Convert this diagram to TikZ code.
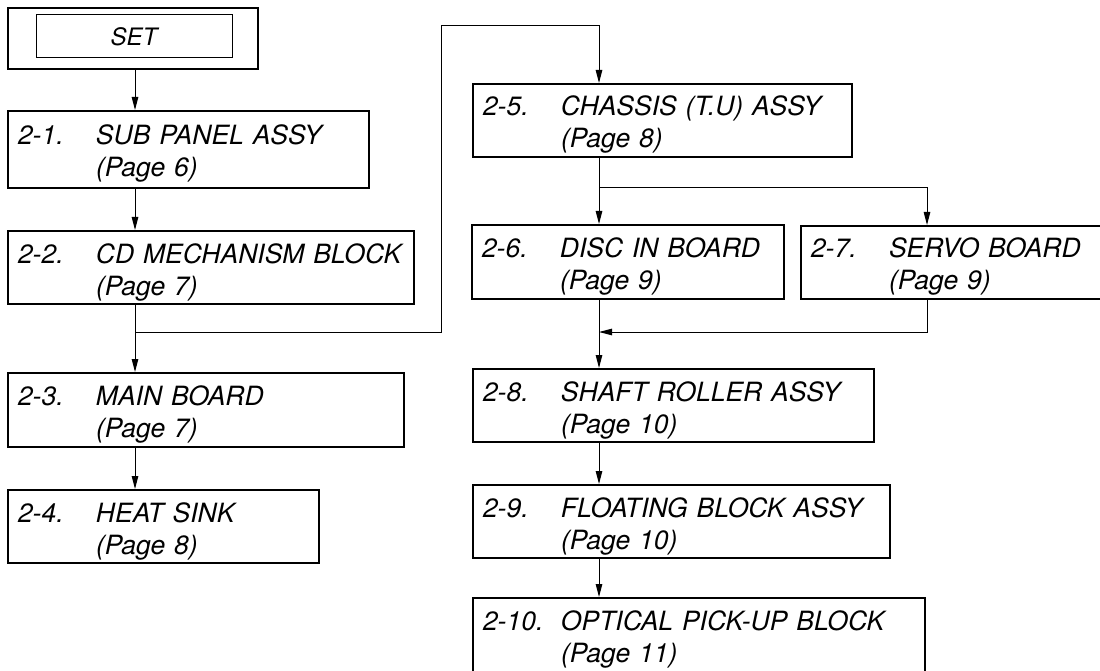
\documentclass[tikz,border=0pt]{standalone}
\usepackage{fontspec}
\setmainfont{TeX Gyre Heros}
\usetikzlibrary{arrows.meta}

\newcommand{\entry}[3]{\makebox[78pt][l]{#1}#2\rule{0pt}{32pt}\\\hspace*{78pt}#3\rule[-9pt]{0pt}{9pt}}

\begin{document}
\begin{tikzpicture}[x=1pt, y=-1pt,
  font=\fontsize{26.5}{32}\selectfont\itshape,
  part/.style={draw, line width=2pt, anchor=north west, inner xsep=10pt, inner ysep=0pt, align=left},
  link/.style={line width=1pt, -{Triangle[length=13pt, width=6.5pt]}}]
  \useasboundingbox (0,0) rectangle (1100,671);
  \clip (0,0) rectangle (1100,671);
  % start box
  \node[draw, line width=1pt, minimum width=196pt, minimum height=43pt,
        font=\fontsize{24}{28}\selectfont\itshape] (set) at (134,36.5) {SET};
  \node[draw, line width=2pt, minimum width=250pt, minimum height=61pt] (setframe) at (133,38.5) {};
  % disassembly steps
  \foreach \nm/\x/\y/\w/\h/\num/\txt/\pg in {
      sub/7/110/361/77/2-1./SUB PANEL ASSY/6,
      cdm/7/230/406/73/2-2./CD MECHANISM BLOCK/7,
      main/7/372/396/74/2-3./MAIN BOARD/7,
      heat/7/489/311/73/2-4./HEAT SINK/8,
      chassis/472/83/379/72/2-5./CHASSIS (T.U) ASSY/8,
      disc/471/224/312/74/2-6./DISC IN BOARD/9,
      servo/800/225/310/73/2-7./SERVO BOARD/9,
      shaft/472/368/401/73/2-8./SHAFT ROLLER ASSY/10,
      floating/472/484/417/73/2-9./FLOATING BLOCK ASSY/10,
      pickup/472/597/452/74/2-10./OPTICAL PICK-UP BLOCK/11} {
    \pgfmathsetmacro{\tw}{\w-20}
    \node[part, text width=\tw pt, minimum height=\h pt] (\nm) at (\x,\y) {\entry{\num}{\txt}{(Page \pg)}};
  }
  \coordinate (lx) at (135,0);
  \coordinate (rx) at (599,0);
  \coordinate (sx) at (927,0);
  \coordinate (bend) at (441,26);
  \coordinate (j1) at (135,332);
  \coordinate (j2) at (599,332);
  \coordinate (j3) at (599,188);
  % left column
  \draw[link] (setframe.south -| lx) -- (sub.north -| lx);
  \draw[link] (sub.south -| lx) -- (cdm.north -| lx);
  \draw[link] (cdm.south -| lx) -- (main.north -| lx);
  \draw[link] (main.south -| lx) -- (heat.north -| lx);
  \draw[link] (j1) -| (bend) -| (chassis.north -| rx);
  % right column
  \draw[link] (chassis.south -| rx) -- (disc.north -| rx);
  \draw[link] (j3) -| (servo.north -| sx);
  \draw[link] (disc.south -| rx) -- (shaft.north -| rx);
  \draw[link] (servo.south -| sx) |- (j2);
  \draw[link] (shaft.south -| rx) -- (floating.north -| rx);
  \draw[link] (floating.south -| rx) -- (pickup.north -| rx);
\end{tikzpicture}
\end{document}
